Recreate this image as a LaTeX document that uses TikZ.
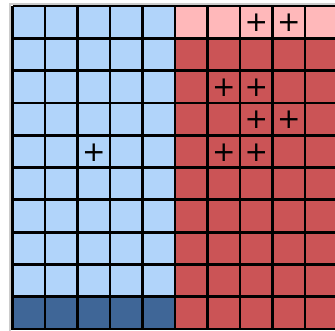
\documentclass[tikz,border=0pt]{standalone}
\usepackage{fontspec}
\newfontfamily\plusfont{DejaVu Sans}
\definecolor{lblue}{HTML}{B1D4FA}
\definecolor{dblue}{HTML}{3F6697}
\definecolor{lpink}{HTML}{FFB8BA}
\definecolor{dred}{HTML}{CB5456}
\tikzset{
  gridline/.style={black, line width=2.8pt},
  plusmark/.style={inner sep=0pt, text=black, font=\plusfont\fontsize{28}{28}\selectfont},
}
\begin{document}
\begin{tikzpicture}[x=1pt,y=-1pt]
\useasboundingbox (0,0) rectangle (335,330);
\clip (0,0) rectangle (335,330);
\fill[white] (0,0) rectangle (335,330);
\draw[gray!40, line width=1.4pt] (10,331) -- (10,4) -- (336,4);
% cells
\fill[lblue] (12.5,6) rectangle (175,296.7);
\fill[dblue] (12.5,296.7) rectangle (175,330);
\fill[lpink] (175,6) rectangle (336,38.3);
\fill[dred] (175,38.3) rectangle (336,330);
% grid
\foreach \i in {0,...,10} {
  \draw[gridline] ({12.5+32.5*\i},6) -- ({12.5+32.5*\i},330);
  \draw[gridline] (12.5,{6+32.3*\i}) -- (336,{6+32.3*\i});
}
% plus signs (col,row)
\node[plusmark] (pa) at ({12.5+32.5*7.5},{6+32.3*0.5+1}) {+};
\node[plusmark] (pb) at ({12.5+32.5*8.5},{6+32.3*0.5+1}) {+};
\node[plusmark] (pc) at ({12.5+32.5*6.5},{6+32.3*2.5+1}) {+};
\node[plusmark] (pd) at ({12.5+32.5*7.5},{6+32.3*2.5+1}) {+};
\node[plusmark] (pe) at ({12.5+32.5*7.5},{6+32.3*3.5+1}) {+};
\node[plusmark] (pf) at ({12.5+32.5*8.5},{6+32.3*3.5+1}) {+};
\node[plusmark] (pg) at ({12.5+32.5*2.5},{6+32.3*4.5+1}) {+};
\node[plusmark] (ph) at ({12.5+32.5*6.5},{6+32.3*4.5+1}) {+};
\node[plusmark] (pi) at ({12.5+32.5*7.5},{6+32.3*4.5+1}) {+};
\end{tikzpicture}
\end{document}
